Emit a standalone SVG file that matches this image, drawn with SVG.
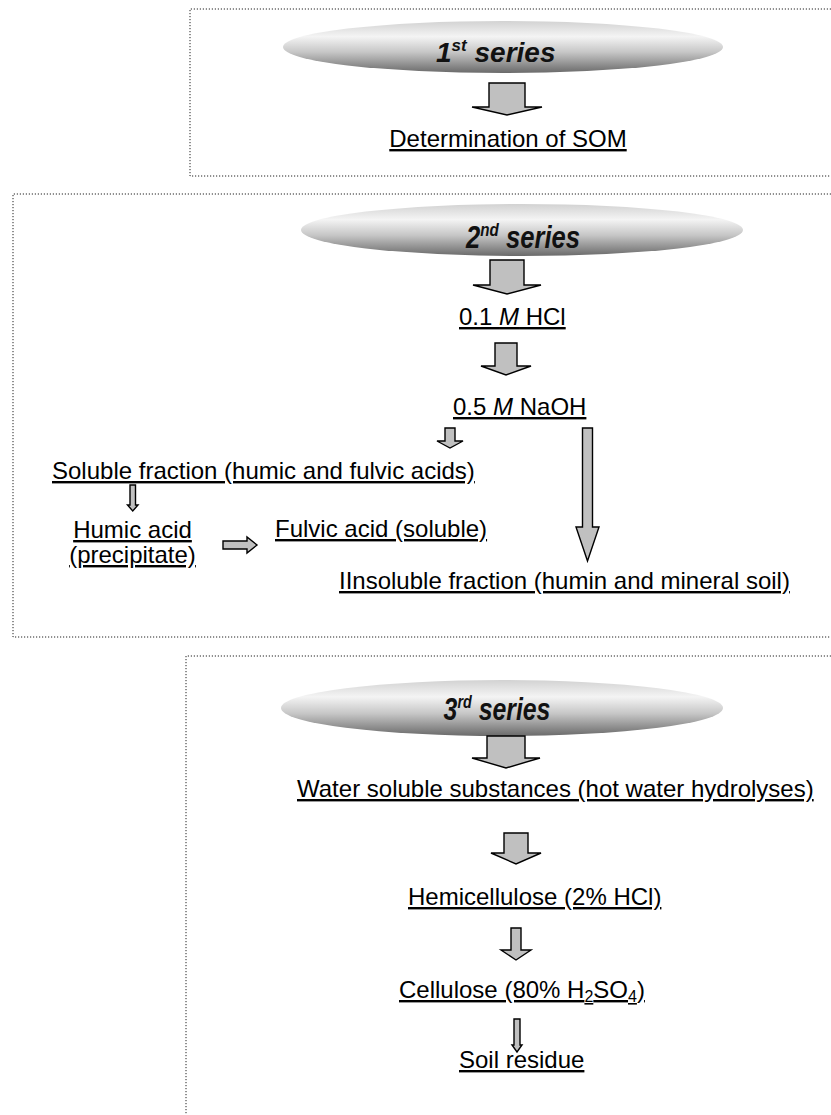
<svg xmlns="http://www.w3.org/2000/svg" width="831" height="1115" viewBox="0 0 831 1115">
<defs>
<linearGradient id="eg" x1="0" y1="0" x2="0" y2="1">
<stop offset="0" stop-color="#d2d2d2"/>
<stop offset="0.3" stop-color="#f4f4f4"/>
<stop offset="0.6" stop-color="#c6c6c6"/>
<stop offset="1" stop-color="#6a6a6a"/>
</linearGradient>
</defs>
<style>
.box{fill:none;stroke:#222;stroke-width:1;stroke-dasharray:1.2 1.8}
.ell{fill:url(#eg)}
.arr{fill:#c0c0c0;stroke:#000;stroke-width:1.4;stroke-linejoin:miter}
.t{font-family:"Liberation Sans",Arial,sans-serif;font-size:24px;fill:#000;text-decoration:underline}
.s{font-family:"Liberation Sans",Arial,sans-serif;font-weight:bold;font-style:italic;fill:#111}
</style>
<g id="frames">
<path class="box" d="M840,9 H190 V176 H840"/>
<path class="box" d="M840,194 H13 V637 H840"/>
<path class="box" d="M840,656 H186 V1120"/>
</g>
<g id="series1">
<ellipse class="ell" cx="503" cy="47" rx="220" ry="26"/>
<text class="s" x="436" y="62" font-size="28">1<tspan font-size="17" dy="-11">st</tspan><tspan dy="11"> series</tspan></text>
</g>
<g id="som"><text class="t" x="508" y="147" text-anchor="middle">Determination of SOM</text></g>
<g id="series2">
<ellipse class="ell" cx="522" cy="230" rx="221" ry="26"/>
<text class="s" transform="translate(523,248) scale(0.8,1)" text-anchor="middle" font-size="32">2<tspan font-size="19" dy="-12">nd</tspan><tspan dy="12"> series</tspan></text>
</g>
<g id="hcl"><text class="t" x="459" y="325">0.1 <tspan font-style="italic">M</tspan> HCl</text></g>
<g id="naoh"><text class="t" x="453" y="415">0.5 <tspan font-style="italic">M</tspan> NaOH</text></g>
<g id="soluble"><text class="t" x="52" y="479">Soluble fraction (humic and fulvic acids)</text></g>
<g id="humic">
<text class="t" x="132.5" y="538" text-anchor="middle">Humic acid</text>
<text class="t" x="132.5" y="563" text-anchor="middle">(precipitate)</text>
</g>
<g id="fulvic"><text class="t" x="275" y="537">Fulvic acid (soluble)</text></g>
<g id="insoluble"><text class="t" x="339" y="589">IInsoluble fraction (humin and mineral soil)</text></g>
<g id="series3">
<ellipse class="ell" cx="502" cy="708" rx="221" ry="28"/>
<text class="s" transform="translate(497,720) scale(0.8,1)" text-anchor="middle" font-size="31">3<tspan font-size="18" dy="-12">rd</tspan><tspan dy="12"> series</tspan></text>
</g>
<g id="water"><text class="t" x="297" y="797">Water soluble substances (hot water hydrolyses)</text></g>
<g id="hemi"><text class="t" x="408" y="905">Hemicellulose (2% HCl)</text></g>
<g id="cellulose"><text class="t" x="399" y="998">Cellulose (80% H<tspan font-size="16" dy="4">2</tspan><tspan dy="-4">SO</tspan><tspan font-size="16" dy="4">4</tspan><tspan dy="-4">)</tspan></text></g>
<g id="residue"><text class="t" x="459" y="1068">Soil residue</text></g>
<g id="connectors">
<path class="arr" d="M489,83 H525 V107 H542 L507,115 L472,107 H489 Z"/>
<path class="arr" d="M490,260 H524 V285 H541 L507,294 L473,285 H490 Z"/>
<path class="arr" d="M495,343 H517 V366 H531 L506,375 L481,366 H495 Z"/>
<path class="arr" d="M445,428 H455 V441 H463 L450,448 L437,441 H445 Z"/>
<path class="arr" d="M582.5,428 H592.5 V527 H599 L587.5,561 L576,527 H582.5 Z"/>
<path class="arr" d="M130,485 H135.5 V505 H138 L132.75,511 L127.5,505 H130 Z"/>
<path class="arr" d="M223,541 V549 H247 V553 L257,545 L247,537 V541 Z"/>
<path class="arr" d="M487,736 H525 V758 H540 L506,768 L472,758 H487 Z"/>
<path class="arr" d="M504,833 H528 V853 H541 L516,864 L491,853 H504 Z"/>
<path class="arr" d="M511,928 H521 V950 H531 L516,960 L501,950 H511 Z"/>
<path class="arr" d="M514,1019 H520 V1045 H522 L517,1052 L512,1045 H514 Z"/>
</g>
</svg>
